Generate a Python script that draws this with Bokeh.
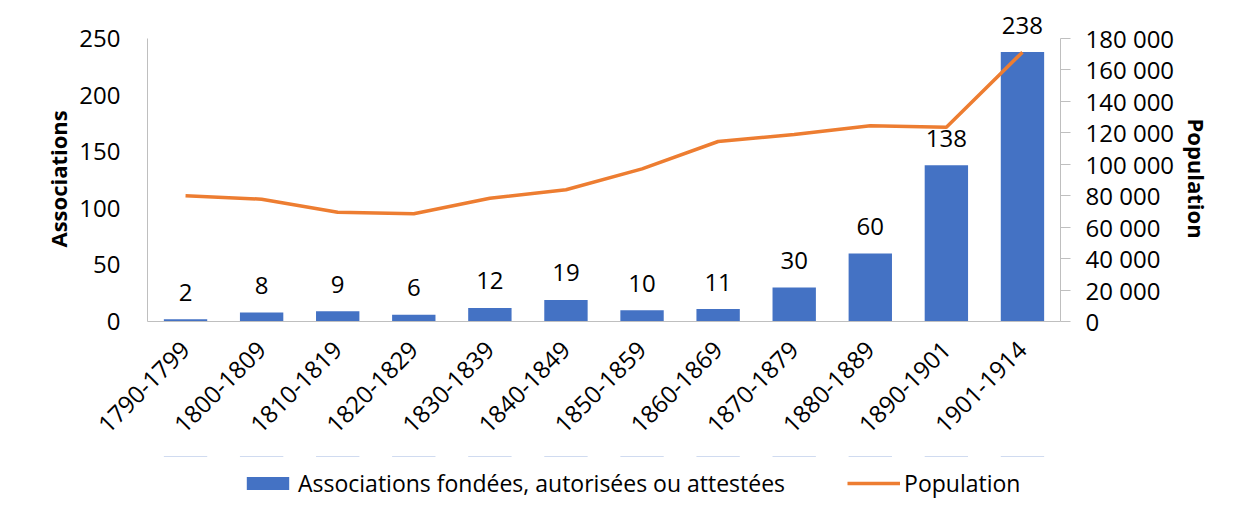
from bokeh.plotting import figure
from bokeh.layouts import column
from bokeh.models import (ColumnDataSource, FactorRange, Range1d, LinearAxis, FixedTicker,
                          LabelSet, Legend, LegendItem, Title)
from bokeh.core.properties import value
from bokeh.embed import file_html
from bokeh.resources import INLINE
import math

# ---- data ----
periods = ["1790-1799", "1800-1809", "1810-1819", "1820-1829", "1830-1839", "1840-1849",
           "1850-1859", "1860-1869", "1870-1879", "1880-1889", "1890-1901", "1901-1914"]
associations = [2, 8, 9, 6, 12, 19, 10, 11, 30, 60, 138, 238]
population = [80000, 77800, 69500, 68500, 78400, 83800, 97100, 114500, 118900, 124500, 123600, 171300]
assoc_ticks = [0, 50, 100, 150, 200, 250]
pop_ticks = [0, 20000, 40000, 60000, 80000, 100000, 120000, 140000, 160000, 180000]
pop_tick_labels = ["0", "20 000", "40 000", "60 000", "80 000", "100 000", "120 000",
                   "140 000", "160 000", "180 000"]
assoc_max = 250
pop_max = 180000
left_title = "Associations"
right_title = "Population"
bar_name = "Associations fondées, autorisées ou attestées"
line_name = "Population"

FONT = "Open Sans"
BLUE = "#4472C4"
ORANGE = "#ED7D31"
AXIS_GREY = "#BFBFBF"
FS = "24px"

# layout (pixels)
W = 1229
H_MAIN = 456
H_LEG = 48
AXIS_TOP = 38       # where the value axes end
FRAME_TOP = 16      # frame extended upward so the top data label is not clipped
FRAME_BOTTOM = 321
scale_up = (FRAME_BOTTOM - FRAME_TOP) / (FRAME_BOTTOM - AXIS_TOP)

src = ColumnDataSource(dict(x=periods, a=associations, p=population,
                            lab=[str(v) for v in associations]))

p = figure(width=W, height=H_MAIN, x_range=FactorRange(*periods),
           y_range=Range1d(0, assoc_max * scale_up),
           output_backend="svg", toolbar_location=None,
           min_border_left=147, min_border_right=W - 1060, min_border_top=FRAME_TOP,
           min_border_bottom=H_MAIN - FRAME_BOTTOM)
p.extra_y_ranges = {"pop": Range1d(0, pop_max * scale_up)}
p.outline_line_color = None
p.xgrid.grid_line_color = None
p.ygrid.grid_line_color = None
p.background_fill_color = "white"
p.border_fill_color = "white"

bars = p.vbar(x="x", top="a", width=0.57, source=src, fill_color=BLUE, line_color=None)
line = p.line(x="x", y="p", source=src, y_range_name="pop", line_color=ORANGE, line_width=3.5)

labels = LabelSet(x="x", y="a", text="lab", source=src, y_offset=27, text_align="center",
                  text_baseline="middle", text_font=value(FONT), text_font_size=FS,
                  text_color="#000000")
p.add_layout(labels)

# left axis
ax = p.yaxis[0]
ax.ticker = FixedTicker(ticks=assoc_ticks)
ax.bounds = (0, assoc_max)
ax.major_label_text_font = FONT
ax.major_label_text_font_size = FS
ax.major_label_text_color = "#000000"
ax.major_label_standoff = 27
ax.major_tick_out = 0
ax.major_tick_in = 0
ax.minor_tick_out = 0
ax.minor_tick_in = 0
ax.axis_line_color = AXIS_GREY

# right axis
rax = LinearAxis(y_range_name="pop", ticker=FixedTicker(ticks=pop_ticks), bounds=(0, pop_max))
rax.major_label_overrides = {t: s for t, s in zip(pop_ticks, pop_tick_labels)}
rax.major_label_text_font = FONT
rax.major_label_text_font_size = FS
rax.major_label_text_color = "#000000"
rax.major_label_standoff = 15
rax.major_tick_out = 10
rax.major_tick_in = 0
rax.minor_tick_out = 0
rax.minor_tick_in = 0
rax.axis_line_color = AXIS_GREY
rax.major_tick_line_color = AXIS_GREY
p.add_layout(rax, "right")

# axis titles (side titles, positioned along the axis span)
p.add_layout(Title(text=left_title, align="left", offset=74, standoff=8,
                   text_font=FONT, text_font_style="bold", text_font_size="22px",
                   text_color="#000000"), "left")
p.add_layout(Title(text=right_title, align="left", offset=102, standoff=8,
                   text_font=FONT, text_font_style="bold", text_font_size="22px",
                   text_color="#000000"), "right")

# bottom axis
bx = p.xaxis[0]
bx.major_label_orientation = math.pi / 4
bx.major_label_text_font = FONT
bx.major_label_text_font_size = FS
bx.major_label_text_color = "#000000"
bx.major_label_standoff = 24
bx.major_tick_out = 0
bx.major_tick_in = 0
bx.axis_line_color = AXIS_GREY

# legend strip (separate figure so the legend is not clipped); its proxy glyphs
# use the real series but have zero height / lie outside the strip's visible range
lf = figure(width=W, height=H_LEG, x_range=FactorRange(*periods), y_range=Range1d(-2, -1),
            output_backend="svg", toolbar_location=None, x_axis_type=None, y_axis_type=None,
            min_border=0)
lf.outline_line_color = None
lf.xgrid.grid_line_color = None
lf.ygrid.grid_line_color = None
leg_bar = lf.vbar(x="x", top="a", bottom="a", width=0.57, source=src,
                  fill_color=BLUE, line_color=None)
leg_line = lf.line(x="x", y="p", source=src, line_color=ORANGE, line_width=3.5)
legend = Legend(items=[LegendItem(label=bar_name, renderers=[leg_bar]),
                       LegendItem(label=line_name, renderers=[leg_line])],
                orientation="horizontal", location=(94, 5),
                glyph_width=53, glyph_height=16, label_standoff=4, spacing=62,
                label_text_font=FONT, label_text_font_size="23px", label_text_color="#000000",
                border_line_color=None, background_fill_alpha=0, padding=4, margin=0)
lf.add_layout(legend, "center")

layout = column(p, lf, spacing=0)
open("out.html", "w").write(file_html(layout, INLINE))
